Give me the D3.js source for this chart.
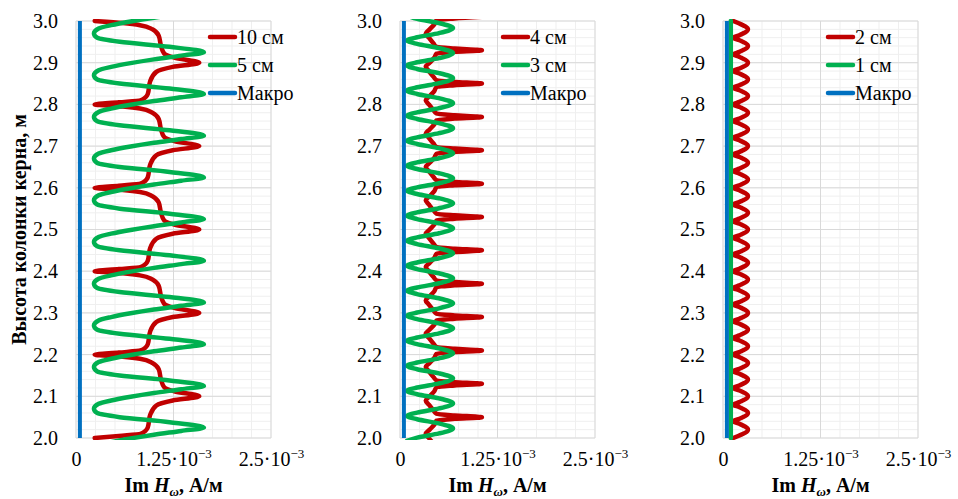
<!DOCTYPE html>
<html>
<head>
<meta charset="utf-8">
<script src="https://cdn.jsdelivr.net/npm/d3@7"></script>
<style>
  body { margin: 0; background: #fff; }
  svg text { font-family: "Liberation Serif", "Times New Roman", serif; fill: #000; }
</style>
</head>
<body>
<div id="chart"></div>
<script>
// heights in m, values in 10^-3 A/m : [height, value]
var yTicks = [2.0, 2.1, 2.2, 2.3, 2.4, 2.5, 2.6, 2.7, 2.8, 2.9, 3.0]
var xTicks = [0, 1.25, 2.5]
var xTickLabels = ["0", "1.25", "2.5"]
var xExponent = "−3"

var namesA = ["10 см", "5 см", "Макро"]
var namesB = ["4 см", "3 см", "Макро"]
var namesC = ["2 см", "1 см", "Макро"]

var red10 = [
  [3.0,0.24],[2.995,0.6],[2.99,0.82],[2.98,0.98],[2.965,1.06],[2.94,1.09],[2.922,1.13],[2.912,1.26],[2.9,1.58],[2.89,1.24],[2.878,1.03],[2.855,0.95],[2.825,0.92],[2.81,0.83],[2.805,0.55],
  [2.8,0.24],[2.795,0.6],[2.79,0.82],[2.78,0.98],[2.765,1.06],[2.74,1.09],[2.722,1.13],[2.712,1.26],[2.7,1.58],[2.69,1.24],[2.678,1.03],[2.655,0.95],[2.625,0.92],[2.61,0.83],[2.605,0.55],
  [2.6,0.24],[2.595,0.6],[2.59,0.82],[2.58,0.98],[2.565,1.06],[2.54,1.09],[2.522,1.13],[2.512,1.26],[2.5,1.58],[2.49,1.24],[2.478,1.03],[2.455,0.95],[2.425,0.92],[2.41,0.83],[2.405,0.55],
  [2.4,0.24],[2.395,0.6],[2.39,0.82],[2.38,0.98],[2.365,1.06],[2.34,1.09],[2.322,1.13],[2.312,1.26],[2.3,1.58],[2.29,1.24],[2.278,1.03],[2.255,0.95],[2.225,0.92],[2.21,0.83],[2.205,0.55],
  [2.2,0.24],[2.195,0.6],[2.19,0.82],[2.18,0.98],[2.165,1.06],[2.14,1.09],[2.122,1.13],[2.112,1.26],[2.1,1.58],[2.09,1.24],[2.078,1.03],[2.055,0.95],[2.025,0.92],[2.01,0.83],[2.005,0.55],
  [2.0,0.24]
]

var green5 = [
  [3.017,1.35],[3.008,1.0],[2.999,0.7],[2.99,0.45],[2.982,0.29],
  [2.97,0.23],[2.96,0.27],[2.95,0.56],[2.938,1.2],[2.925,1.64],[2.917,1.35],[2.908,1.0],[2.899,0.7],[2.89,0.45],[2.882,0.29],
  [2.87,0.23],[2.86,0.27],[2.85,0.56],[2.838,1.2],[2.825,1.64],[2.817,1.35],[2.808,1.0],[2.799,0.7],[2.79,0.45],[2.782,0.29],
  [2.77,0.23],[2.76,0.27],[2.75,0.56],[2.738,1.2],[2.725,1.64],[2.717,1.35],[2.708,1.0],[2.699,0.7],[2.69,0.45],[2.682,0.29],
  [2.67,0.23],[2.66,0.27],[2.65,0.56],[2.638,1.2],[2.625,1.64],[2.617,1.35],[2.608,1.0],[2.599,0.7],[2.59,0.45],[2.582,0.29],
  [2.57,0.23],[2.56,0.27],[2.55,0.56],[2.538,1.2],[2.525,1.64],[2.517,1.35],[2.508,1.0],[2.499,0.7],[2.49,0.45],[2.482,0.29],
  [2.47,0.23],[2.46,0.27],[2.45,0.56],[2.438,1.2],[2.425,1.64],[2.417,1.35],[2.408,1.0],[2.399,0.7],[2.39,0.45],[2.382,0.29],
  [2.37,0.23],[2.36,0.27],[2.35,0.56],[2.338,1.2],[2.325,1.64],[2.317,1.35],[2.308,1.0],[2.299,0.7],[2.29,0.45],[2.282,0.29],
  [2.27,0.23],[2.26,0.27],[2.25,0.56],[2.238,1.2],[2.225,1.64],[2.217,1.35],[2.208,1.0],[2.199,0.7],[2.19,0.45],[2.182,0.29],
  [2.17,0.23],[2.16,0.27],[2.15,0.56],[2.138,1.2],[2.125,1.64],[2.117,1.35],[2.108,1.0],[2.099,0.7],[2.09,0.45],[2.082,0.29],
  [2.07,0.23],[2.06,0.27],[2.05,0.56],[2.038,1.2],[2.025,1.64],[2.017,1.35],[2.008,1.0],[1.999,0.7],[1.99,0.45],[1.982,0.29]
]

var red4 = [
  [3.01,1.05],[3.006,0.7],[3.002,0.47],[2.992,0.44],[2.98,0.38],[2.97,0.33],[2.96,0.37],[2.946,0.43],[2.938,0.47],[2.934,0.7],
  [2.93,1.05],[2.926,0.7],[2.922,0.47],[2.912,0.44],[2.9,0.38],[2.89,0.33],[2.88,0.37],[2.866,0.43],[2.858,0.47],[2.854,0.7],
  [2.85,1.05],[2.846,0.7],[2.842,0.47],[2.832,0.44],[2.82,0.38],[2.81,0.33],[2.8,0.37],[2.786,0.43],[2.778,0.47],[2.774,0.7],
  [2.77,1.05],[2.766,0.7],[2.762,0.47],[2.752,0.44],[2.74,0.38],[2.73,0.33],[2.72,0.37],[2.706,0.43],[2.698,0.47],[2.694,0.7],
  [2.69,1.05],[2.686,0.7],[2.682,0.47],[2.672,0.44],[2.66,0.38],[2.65,0.33],[2.64,0.37],[2.626,0.43],[2.618,0.47],[2.614,0.7],
  [2.61,1.05],[2.606,0.7],[2.602,0.47],[2.592,0.44],[2.58,0.38],[2.57,0.33],[2.56,0.37],[2.546,0.43],[2.538,0.47],[2.534,0.7],
  [2.53,1.05],[2.526,0.7],[2.522,0.47],[2.512,0.44],[2.5,0.38],[2.49,0.33],[2.48,0.37],[2.466,0.43],[2.458,0.47],[2.454,0.7],
  [2.45,1.05],[2.446,0.7],[2.442,0.47],[2.432,0.44],[2.42,0.38],[2.41,0.33],[2.4,0.37],[2.386,0.43],[2.378,0.47],[2.374,0.7],
  [2.37,1.05],[2.366,0.7],[2.362,0.47],[2.352,0.44],[2.34,0.38],[2.33,0.33],[2.32,0.37],[2.306,0.43],[2.298,0.47],[2.294,0.7],
  [2.29,1.05],[2.286,0.7],[2.282,0.47],[2.272,0.44],[2.26,0.38],[2.25,0.33],[2.24,0.37],[2.226,0.43],[2.218,0.47],[2.214,0.7],
  [2.21,1.05],[2.206,0.7],[2.202,0.47],[2.192,0.44],[2.18,0.38],[2.17,0.33],[2.16,0.37],[2.146,0.43],[2.138,0.47],[2.134,0.7],
  [2.13,1.05],[2.126,0.7],[2.122,0.47],[2.112,0.44],[2.1,0.38],[2.09,0.33],[2.08,0.37],[2.066,0.43],[2.058,0.47],[2.054,0.7],
  [2.05,1.05],[2.046,0.7],[2.042,0.47],[2.032,0.44],[2.02,0.38],[2.01,0.33],[2.0,0.37],[1.986,0.43]
]

var green3 = [
  [3.013,0.09],[3.005,0.22],[2.995,0.5],[2.983,0.68],[2.971,0.5],[2.961,0.22],
  [2.953,0.09],[2.945,0.22],[2.935,0.5],[2.923,0.68],[2.911,0.5],[2.901,0.22],
  [2.893,0.09],[2.885,0.22],[2.875,0.5],[2.863,0.68],[2.851,0.5],[2.841,0.22],
  [2.833,0.09],[2.825,0.22],[2.815,0.5],[2.803,0.68],[2.791,0.5],[2.781,0.22],
  [2.773,0.09],[2.765,0.22],[2.755,0.5],[2.743,0.68],[2.731,0.5],[2.721,0.22],
  [2.713,0.09],[2.705,0.22],[2.695,0.5],[2.683,0.68],[2.671,0.5],[2.661,0.22],
  [2.653,0.09],[2.645,0.22],[2.635,0.5],[2.623,0.68],[2.611,0.5],[2.601,0.22],
  [2.593,0.09],[2.585,0.22],[2.575,0.5],[2.563,0.68],[2.551,0.5],[2.541,0.22],
  [2.533,0.09],[2.525,0.22],[2.515,0.5],[2.503,0.68],[2.491,0.5],[2.481,0.22],
  [2.473,0.09],[2.465,0.22],[2.455,0.5],[2.443,0.68],[2.431,0.5],[2.421,0.22],
  [2.413,0.09],[2.405,0.22],[2.395,0.5],[2.383,0.68],[2.371,0.5],[2.361,0.22],
  [2.353,0.09],[2.345,0.22],[2.335,0.5],[2.323,0.68],[2.311,0.5],[2.301,0.22],
  [2.293,0.09],[2.285,0.22],[2.275,0.5],[2.263,0.68],[2.251,0.5],[2.241,0.22],
  [2.233,0.09],[2.225,0.22],[2.215,0.5],[2.203,0.68],[2.191,0.5],[2.181,0.22],
  [2.173,0.09],[2.165,0.22],[2.155,0.5],[2.143,0.68],[2.131,0.5],[2.121,0.22],
  [2.113,0.09],[2.105,0.22],[2.095,0.5],[2.083,0.68],[2.071,0.5],[2.061,0.22],
  [2.053,0.09],[2.045,0.22],[2.035,0.5],[2.023,0.68],[2.011,0.5],[2.001,0.22],
  [1.993,0.09]
]

var red2 = [
  [3.0,0.13],[2.994,0.21],[2.98,0.32],[2.966,0.21],
  [2.96,0.13],[2.954,0.21],[2.94,0.32],[2.926,0.21],
  [2.92,0.13],[2.914,0.21],[2.9,0.32],[2.886,0.21],
  [2.88,0.13],[2.874,0.21],[2.86,0.32],[2.846,0.21],
  [2.84,0.13],[2.834,0.21],[2.82,0.32],[2.806,0.21],
  [2.8,0.13],[2.794,0.21],[2.78,0.32],[2.766,0.21],
  [2.76,0.13],[2.754,0.21],[2.74,0.32],[2.726,0.21],
  [2.72,0.13],[2.714,0.21],[2.7,0.32],[2.686,0.21],
  [2.68,0.13],[2.674,0.21],[2.66,0.32],[2.646,0.21],
  [2.64,0.13],[2.634,0.21],[2.62,0.32],[2.606,0.21],
  [2.6,0.13],[2.594,0.21],[2.58,0.32],[2.566,0.21],
  [2.56,0.13],[2.554,0.21],[2.54,0.32],[2.526,0.21],
  [2.52,0.13],[2.514,0.21],[2.5,0.32],[2.486,0.21],
  [2.48,0.13],[2.474,0.21],[2.46,0.32],[2.446,0.21],
  [2.44,0.13],[2.434,0.21],[2.42,0.32],[2.406,0.21],
  [2.4,0.13],[2.394,0.21],[2.38,0.32],[2.366,0.21],
  [2.36,0.13],[2.354,0.21],[2.34,0.32],[2.326,0.21],
  [2.32,0.13],[2.314,0.21],[2.3,0.32],[2.286,0.21],
  [2.28,0.13],[2.274,0.21],[2.26,0.32],[2.246,0.21],
  [2.24,0.13],[2.234,0.21],[2.22,0.32],[2.206,0.21],
  [2.2,0.13],[2.194,0.21],[2.18,0.32],[2.166,0.21],
  [2.16,0.13],[2.154,0.21],[2.14,0.32],[2.126,0.21],
  [2.12,0.13],[2.114,0.21],[2.1,0.32],[2.086,0.21],
  [2.08,0.13],[2.074,0.21],[2.06,0.32],[2.046,0.21],
  [2.04,0.13],[2.034,0.21],[2.02,0.32],[2.006,0.21],
  [2.0,0.13]
]

var green1 = [[3.0,0.1],[2.0,0.1]]
var macro = [[3.0,0.05],[2.0,0.05]]

var colors = ["#C00000", "#00B050", "#0070C0"]
var widths = [4.5, 4.5, 4]

var panels = [
  { names: namesA, series: [red10, green5, macro], left: 76, legendX: 134 },
  { names: namesB, series: [red4, green3, macro], left: 400, legendX: 103 },
  { names: namesC, series: [red2, green1, macro], left: 723, legendX: 105 }
]

var width = 958, height = 499
var plotTop = 21, plotBottom = 438, plotWidth = 195

var svg = d3.select("#chart").append("svg")
    .attr("width", width)
    .attr("height", height)

var yPositionScale = d3.scaleLinear()
    .domain([2.0, 3.0])
    .range([plotBottom, plotTop])

var minorY = d3.range(0, 51).map(function (k) { return 2 + k * 0.02 })
var minorX = d3.range(0, 11).map(function (k) { return k * 0.25 })

panels.forEach(function (p, i) {
  var xPositionScale = d3.scaleLinear()
      .domain([0, 2.5])
      .range([p.left, p.left + plotWidth])

  var g = svg.append("g")

  // minor grid
  g.selectAll(".hminor").data(minorY)
    .enter().append("line")
    .attr("x1", p.left).attr("x2", p.left + plotWidth)
    .attr("y1", function (d) { return yPositionScale(d) })
    .attr("y2", function (d) { return yPositionScale(d) })
    .attr("stroke", "#efefef")
  g.selectAll(".vminor").data(minorX)
    .enter().append("line")
    .attr("y1", plotTop).attr("y2", plotBottom)
    .attr("x1", function (d) { return xPositionScale(d) })
    .attr("x2", function (d) { return xPositionScale(d) })
    .attr("stroke", "#efefef")

  // major grid
  g.selectAll(".hmajor").data(yTicks)
    .enter().append("line")
    .attr("x1", p.left).attr("x2", p.left + plotWidth)
    .attr("y1", function (d) { return yPositionScale(d) })
    .attr("y2", function (d) { return yPositionScale(d) })
    .attr("stroke", "#d9d9d9")
  g.selectAll(".vmajor").data(xTicks)
    .enter().append("line")
    .attr("y1", plotTop).attr("y2", plotBottom)
    .attr("x1", function (d) { return xPositionScale(d) })
    .attr("x2", function (d) { return xPositionScale(d) })
    .attr("stroke", "#d9d9d9")

  // axes
  var yAxis = d3.axisLeft(yPositionScale)
      .tickValues(yTicks)
      .tickFormat(d3.format(".1f"))
      .tickSize(0)
      .tickPadding(18)
  var gy = g.append("g")
      .attr("transform", "translate(" + p.left + ",0)")
      .call(yAxis)
  gy.select(".domain").remove()
  gy.selectAll("text").attr("font-size", 20)

  var xAxis = d3.axisBottom(xPositionScale)
      .tickValues(xTicks)
      .tickFormat("")
      .tickSize(0)
      .tickPadding(14)
  var gx = g.append("g")
      .attr("transform", "translate(0," + plotBottom + ")")
      .call(xAxis)
  gx.select(".domain").remove()
  gx.selectAll(".tick text").each(function (d, k) {
    var t = d3.select(this)
      .attr("font-size", 20)
      .text(xTickLabels[k])
    if (d !== 0) {
      t.append("tspan").text("·10")
      t.append("tspan").attr("dy", -8).attr("font-size", 13).text(xExponent)
    }
  })

  // x title
  var xt = g.append("text")
      .attr("x", p.left + plotWidth / 2)
      .attr("y", 492)
      .attr("text-anchor", "middle")
      .attr("font-size", 20)
      .attr("font-weight", "bold")
  xt.append("tspan").text("Im ")
  xt.append("tspan").attr("font-style", "italic").text("H")
  xt.append("tspan").attr("font-style", "italic").attr("font-size", 13).attr("dy", 4).text("ω")
  xt.append("tspan").attr("dy", -4).text(", А/м")

  // curves
  var clipId = "clip" + i
  svg.append("clipPath").attr("id", clipId)
    .append("rect")
    .attr("x", p.left - 5).attr("y", plotTop - 2)
    .attr("width", plotWidth + 10).attr("height", plotBottom - plotTop + 4)

  var line = d3.line()
      .x(function (d) { return xPositionScale(d[1]) })
      .y(function (d) { return yPositionScale(d[0]) })
      .curve(d3.curveMonotoneY)

  var gc = g.append("g").attr("clip-path", "url(#" + clipId + ")")
  p.series.forEach(function (s, j) {
    gc.append("path")
      .datum(s)
      .attr("d", line)
      .attr("fill", "none")
      .attr("stroke", colors[j])
      .attr("stroke-width", widths[j])
      .attr("stroke-linejoin", "round")
      .attr("stroke-linecap", j === 2 ? "butt" : "round")
  })

  // legend
  var legend = g.selectAll(".legend").data(p.names)
    .enter().append("g")
    .attr("transform", function (d, k) { return "translate(" + (p.left + p.legendX) + "," + (37 + k * 28) + ")" })
  legend.append("line")
    .attr("x1", 0).attr("x2", 25)
    .attr("stroke", function (d, k) { return colors[k] })
    .attr("stroke-width", 4.5)
    .attr("stroke-linecap", "round")
  legend.append("text")
    .attr("x", 27)
    .attr("y", 7)
    .attr("font-size", 20)
    .text(function (d) { return d })
})

// y title
svg.append("text")
  .attr("transform", "translate(26," + ((plotTop + plotBottom) / 2) + ") rotate(-90)")
  .attr("text-anchor", "middle")
  .attr("font-size", 20)
  .attr("font-weight", "bold")
  .text("Высота колонки керна, м")
</script>
</body>
</html>
